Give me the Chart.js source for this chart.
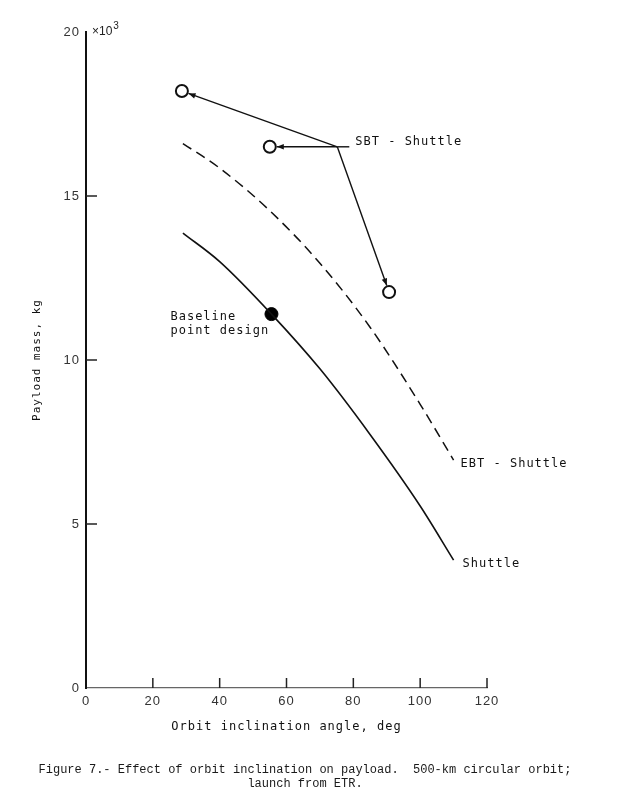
<!DOCTYPE html>
<html>
<head>
<meta charset="utf-8">
<script src="https://cdn.jsdelivr.net/npm/chart.js@4.4.1/dist/chart.umd.min.js"></script>
<style>
    html, body { margin: 0; padding: 0; background: #fff; }
    #wrap { position: relative; width: 630px; height: 800px; }
    #caption {
        position: absolute; left: 0; top: 763px; width: 610px;
        text-align: center; font-family: 'Liberation Mono', monospace;
        font-size: 12px; line-height: 14px; color: #1a1a1a; white-space: pre;
    }
</style>
</head>
<body>
<div id="wrap">
    <canvas id="payloadChart" width="630" height="800"></canvas>
    <div id="caption">Figure 7.- Effect of orbit inclination on payload.  500-km circular orbit;
launch from ETR.</div>
</div>
<script>
// 궤도 경사각 (deg) / 탑재 질량 (x10^3 kg)
const shuttleAngle = [29, 40, 55.5, 70, 85, 100, 110];
const shuttleMass = [13.87, 13.0, 11.4, 9.73, 7.73, 5.55, 3.9];

const ebtAngle = [29, 40, 55, 70, 85, 100, 110];
const ebtMass = [16.6, 15.85, 14.55, 12.95, 11.0, 8.65, 6.95];

const sbtAngle = [28.7, 55, 90.7];
const sbtMass = [18.2, 16.5, 12.07];

const baselineAngle = [55.5];
const baselineMass = [11.4];

const xTicks = [0, 20, 40, 60, 80, 100, 120];
const yTicks = [0, 5, 10, 15, 20];

// SBT 라벨 화살표가 모이는 지점 (데이터 좌표)
const sbtLabelAnchor = { x: 75.2, y: 16.5 };

const toPoints = (xs, ys) => xs.map((x, i) => ({ x: x, y: ys[i] }));

const monoFont = "'DejaVu Sans Mono', monospace";

function drawArrow(ctx, x1, y1, x2, y2, stopShort) {
    const ang = Math.atan2(y2 - y1, x2 - x1);
    const ex = x2 - Math.cos(ang) * stopShort;
    const ey = y2 - Math.sin(ang) * stopShort;
    ctx.beginPath();
    ctx.moveTo(x1, y1);
    ctx.lineTo(ex, ey);
    ctx.stroke();
    const len = 7, half = 2.8;
    ctx.beginPath();
    ctx.moveTo(ex, ey);
    ctx.lineTo(ex - Math.cos(ang) * len + Math.sin(ang) * half, ey - Math.sin(ang) * len - Math.cos(ang) * half);
    ctx.lineTo(ex - Math.cos(ang) * len - Math.sin(ang) * half, ey - Math.sin(ang) * len + Math.cos(ang) * half);
    ctx.closePath();
    ctx.fill();
}

// 글자 간격 (스캔 원본의 레터링 느낌)
const spacingPlugin = {
    id: 'spacing',
    beforeDraw(chart) { chart.ctx.letterSpacing = '1px'; },
    afterDraw(chart) { chart.ctx.letterSpacing = '0px'; },
};

// 안쪽 눈금, x10^3 표시, 주석
const annotationPlugin = {
    id: 'annotations',
    afterDraw(chart) {
        const ctx = chart.ctx;
        const xs = chart.scales.x;
        const ys = chart.scales.y;
        const area = chart.chartArea;
        ctx.save();
        ctx.letterSpacing = '0px';

        // 1. 안쪽 눈금
        ctx.strokeStyle = '#222';
        ctx.lineWidth = 1.5;
        xTicks.filter((v) => v > 0).forEach((v) => {
            const px = xs.getPixelForValue(v);
            ctx.beginPath();
            ctx.moveTo(px, area.bottom);
            ctx.lineTo(px, area.bottom - 10);
            ctx.stroke();
        });
        yTicks.filter((v) => v > 0 && v < 20).forEach((v) => {
            const py = ys.getPixelForValue(v);
            ctx.beginPath();
            ctx.moveTo(area.left, py);
            ctx.lineTo(area.left + 11, py);
            ctx.stroke();
        });

        // 2. x10^3
        ctx.fillStyle = '#222';
        ctx.textAlign = 'left';
        ctx.textBaseline = 'alphabetic';
        ctx.font = "12px 'Liberation Sans', sans-serif";
        ctx.fillText('\u00d710', area.left + 6, area.top + 3);
        const w = ctx.measureText('\u00d710').width;
        ctx.font = "10px 'Liberation Sans', sans-serif";
        ctx.fillText('3', area.left + 7 + w, area.top - 3);

        // 3. SBT 화살표
        const ax = xs.getPixelForValue(sbtLabelAnchor.x);
        const ay = ys.getPixelForValue(sbtLabelAnchor.y);
        ctx.strokeStyle = '#111';
        ctx.fillStyle = '#111';
        ctx.lineWidth = 1.4;
        sbtAngle.forEach((a, i) => {
            drawArrow(ctx, ax, ay, xs.getPixelForValue(a), ys.getPixelForValue(sbtMass[i]), 7);
        });
        ctx.beginPath();
        ctx.moveTo(ax, ay);
        ctx.lineTo(ax + 12, ay);
        ctx.stroke();

        // 4. 텍스트 라벨
        ctx.letterSpacing = '1px';
        ctx.font = '12px ' + monoFont;
        ctx.textBaseline = 'middle';
        ctx.fillText('SBT - Shuttle', ax + 18, ay - 5);

        const bx = xs.getPixelForValue(baselineAngle[0]);
        const by = ys.getPixelForValue(baselineMass[0]);
        ctx.fillText('Baseline', bx - 101, by + 3);
        ctx.fillText('point design', bx - 101, by + 17);

        const ex = xs.getPixelForValue(ebtAngle[ebtAngle.length - 1]);
        const ey = ys.getPixelForValue(ebtMass[ebtMass.length - 1]);
        ctx.fillText('EBT - Shuttle', ex + 7, ey + 4);

        const sx = xs.getPixelForValue(shuttleAngle[shuttleAngle.length - 1]);
        const sy = ys.getPixelForValue(shuttleMass[shuttleMass.length - 1]);
        ctx.fillText('Shuttle', sx + 9, sy + 4);

        ctx.restore();
    },
};

document.addEventListener('DOMContentLoaded', () => {
    const canvas = document.getElementById('payloadChart');

    new Chart(canvas.getContext('2d'), {
        type: 'scatter',
        data: {
            datasets: [
                {
                    label: 'Shuttle',
                    data: toPoints(shuttleAngle, shuttleMass),
                    showLine: true,
                    borderColor: '#111',
                    borderWidth: 1.6,
                    pointRadius: 0,
                    cubicInterpolationMode: 'monotone',
                },
                {
                    label: 'EBT - Shuttle',
                    data: toPoints(ebtAngle, ebtMass),
                    showLine: true,
                    borderColor: '#111',
                    borderWidth: 1.5,
                    borderDash: [10, 6],
                    pointRadius: 0,
                    cubicInterpolationMode: 'monotone',
                },
                {
                    label: 'SBT - Shuttle',
                    data: toPoints(sbtAngle, sbtMass),
                    pointRadius: 6,
                    pointBorderWidth: 2,
                    pointBorderColor: '#111',
                    pointBackgroundColor: '#fff',
                },
                {
                    label: 'Baseline point design',
                    data: toPoints(baselineAngle, baselineMass),
                    pointRadius: 6.5,
                    pointBorderWidth: 1,
                    pointBorderColor: '#000',
                    pointBackgroundColor: '#000',
                },
            ],
        },
        options: {
            responsive: false,
            animation: false,
            layout: {
                padding: { left: 0, right: 143, top: 32, bottom: 52 },
            },
            plugins: {
                legend: { display: false },
                tooltip: { enabled: false },
            },
            scales: {
                x: {
                    type: 'linear',
                    min: 0,
                    max: 120,
                    afterBuildTicks: (scale) => { scale.ticks = xTicks.map((v) => ({ value: v })); },
                    afterFit: (scale) => { scale.height = 60; },
                    grid: { display: false, drawTicks: false },
                    border: { display: true, color: '#666', width: 1.3 },
                    ticks: {
                        padding: 6,
                        color: '#333',
                        font: { family: "'Liberation Sans', sans-serif", size: 13 },
                        maxRotation: 0,
                    },
                    title: {
                        display: true,
                        text: 'Orbit inclination angle, deg',
                        color: '#111',
                        font: { family: monoFont, size: 12 },
                        padding: { top: 0, bottom: 14 },
                    },
                },
                y: {
                    type: 'linear',
                    min: 0,
                    max: 20,
                    afterBuildTicks: (scale) => { scale.ticks = yTicks.map((v) => ({ value: v })); },
                    afterFit: (scale) => { scale.width = 86; },
                    grid: { display: false, drawTicks: false },
                    border: { display: true, color: '#111', width: 2 },
                    ticks: {
                        padding: 6,
                        color: '#333',
                        font: { family: "'Liberation Sans', sans-serif", size: 13 },
                    },
                    title: {
                        display: true,
                        text: 'Payload mass, kg',
                        color: '#111',
                        font: { family: monoFont, size: 11 },
                        padding: { top: 31, bottom: 0 },
                    },
                },
            },
        },
        plugins: [spacingPlugin, annotationPlugin],
    });
});
</script>
</body>
</html>
